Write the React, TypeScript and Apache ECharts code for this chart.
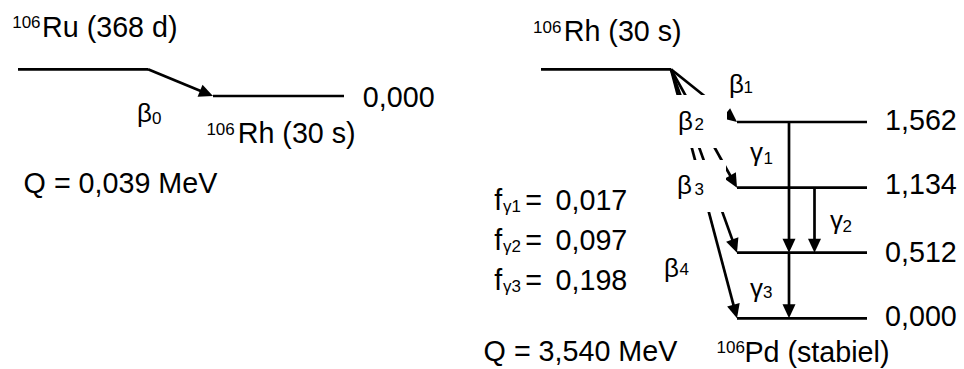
import React, { useEffect, useRef } from 'react';
import * as echarts from 'echarts';

// ---------- data ----------
const ruParent = { mass: '106', name: 'Ru (368 d)' };
const rhNuclide = { mass: '106', name: 'Rh (30 s)' };
const pdNuclide = { mass: '106', name: 'Pd (stabiel)' };
const rhLevelEnergies = ['0,000'];
const pdLevelEnergies = ['1,562', '1,134', '0,512', '0,000'];
const ruBetaLabels = ['0'];
const rhBetaLabels = ['1', '2', '3', '4']; // beta_i feeds Pd level i-1
const gammaLabels = ['1', '2', '3'];
const gammaFrom = [0, 1, 2]; // index into pdLevelEnergies
const gammaTo = [2, 2, 3];
const gammaFractions = ['0,017', '0,097', '0,198'];
const qValues = ['0,039', '3,540'];

// ---------- layout (diagram units = pixels of the axes) ----------
const FONT = '"Liberation Sans", Arial, Helvetica, sans-serif';
const BIG = 28.7;
const SMALL = 17;
const GREEK = 26;
const L = {
  lw: 2.7,
  arrowLen: 14,
  arrowHalf: 6.5,
  ru: { x1: 18, x2: 148, y: 69.3 },
  rhLeft: { x1: 213, x2: 344, y: 96 },
  rhRight: { x1: 541, x2: 671, y: 69.3 },
  pd: { x1: 737, x2: 867, y: [122, 187.7, 252.7, 318.3] },
  gammaX: [789, 814.5, 789],
  masks: [
    { x: 670, y: 95, w: 57, h: 53 },
    { x: 670, y: 160, w: 56, h: 52 },
  ],
  ruMass: [12.2, 22.5], ruName: [42, 26.7],
  rhLeftEnergy: [362.8, 97],
  rhLeftMass: [206.4, 129.2], rhLeftName: [237.7, 133],
  beta0: [137, 113.3], beta0Sub: [152, 118],
  qLeft: [23.6, 183],
  rhRightMass: [533.1, 27.5], rhRightName: [563.7, 31.2],
  beta: [[729, 83.6], [678, 121], [677, 184.5], [664, 267.5]],
  betaSub: [[743.5, 87.5], [694.5, 124.9], [694.5, 189.2], [679.5, 269.8]],
  pdEnergyX: 885, pdEnergyY: [120, 183.7, 252, 316.3],
  gamma: [[750, 152], [830, 220], [750, 287.5]],
  gammaSub: [[763.5, 158.5], [842.5, 226.7], [763, 292.5]],
  fX: 494.3, fSubX: 503, fEqX: 525.3, fValX: 555.5, fY0: 200, fSubY0: 206.7, fStep: 40,
  qRight: [483.6, 351.2],
  pdMass: [716.5, 347.8], pdName: [744.4, 351.7],
};

function buildSegments(): number[][] {
  const s: number[][] = [];
  s.push([L.ru.x1, L.ru.y, L.ru.x2, L.ru.y, 0]);
  ruBetaLabels.forEach(() => s.push([L.ru.x2, L.ru.y, L.rhLeft.x1, L.rhLeft.y, 1]));
  rhLevelEnergies.forEach(() => s.push([L.rhLeft.x1, L.rhLeft.y, L.rhLeft.x2, L.rhLeft.y, 0]));
  s.push([L.rhRight.x1, L.rhRight.y, L.rhRight.x2, L.rhRight.y, 0]);
  pdLevelEnergies.forEach((_, i) => s.push([L.pd.x1, L.pd.y[i], L.pd.x2, L.pd.y[i], 0]));
  rhBetaLabels.forEach((_, i) => s.push([L.rhRight.x2, L.rhRight.y, L.pd.x1, L.pd.y[i], 1]));
  gammaLabels.forEach((_, i) =>
    s.push([L.gammaX[i], L.pd.y[gammaFrom[i]], L.gammaX[i], L.pd.y[gammaTo[i]], 1])
  );
  return s;
}

function renderSegment(_params: any, api: any) {
  const p1 = api.coord([api.value(0), api.value(1)]);
  const p2 = api.coord([api.value(2), api.value(3)]);
  const arrow = api.value(4);
  const children: any[] = [];
  let end = p2;
  if (arrow) {
    const dx = p2[0] - p1[0];
    const dy = p2[1] - p1[1];
    const len = Math.hypot(dx, dy);
    const ux = dx / len;
    const uy = dy / len;
    const bx = p2[0] - ux * L.arrowLen;
    const by = p2[1] - uy * L.arrowLen;
    children.push({
      type: 'polygon',
      shape: {
        points: [
          [p2[0], p2[1]],
          [bx - uy * L.arrowHalf, by + ux * L.arrowHalf],
          [bx + uy * L.arrowHalf, by - ux * L.arrowHalf],
        ],
      },
      style: { fill: '#000' },
    });
    end = [bx + ux * 2, by + uy * 2];
  }
  children.unshift({
    type: 'line',
    shape: { x1: p1[0], y1: p1[1], x2: end[0], y2: end[1] },
    style: { stroke: '#000', lineWidth: L.lw, fill: null },
  });
  return { type: 'group', children };
}

function txt(text: string, pos: number[], size: number) {
  return {
    type: 'text',
    x: pos[0],
    y: pos[1],
    z: 101,
    silent: true,
    style: {
      text,
      font: `${size}px ${FONT}`,
      fill: '#000',
      align: 'left',
      verticalAlign: 'middle',
      textAlign: 'left',
      textVerticalAlign: 'middle',
    },
  };
}

function buildGraphics() {
  const g: any[] = [];
  L.masks.forEach((m) =>
    g.push({ type: 'rect', z: 100, silent: true, shape: { x: m.x, y: m.y, width: m.w, height: m.h }, style: { fill: '#fff' } })
  );
  g.push(txt(ruParent.mass, L.ruMass, SMALL));
  g.push(txt(ruParent.name, L.ruName, BIG));
  g.push(txt(rhLevelEnergies[0], L.rhLeftEnergy, BIG));
  g.push(txt(rhNuclide.mass, L.rhLeftMass, SMALL));
  g.push(txt(rhNuclide.name, L.rhLeftName, BIG));
  g.push(txt('β', L.beta0, GREEK));
  g.push(txt(ruBetaLabels[0], L.beta0Sub, SMALL));
  g.push(txt(`Q = ${qValues[0]} MeV`, L.qLeft, BIG));

  g.push(txt(rhNuclide.mass, L.rhRightMass, SMALL));
  g.push(txt(rhNuclide.name, L.rhRightName, BIG));
  rhBetaLabels.forEach((b, i) => {
    g.push(txt('β', L.beta[i], GREEK));
    g.push(txt(b, L.betaSub[i], SMALL));
  });
  pdLevelEnergies.forEach((e, i) => g.push(txt(e, [L.pdEnergyX, L.pdEnergyY[i]], BIG)));
  gammaLabels.forEach((gl, i) => {
    g.push(txt('γ', L.gamma[i], GREEK));
    g.push(txt(gl, L.gammaSub[i], SMALL));
  });
  gammaFractions.forEach((f, i) => {
    const y = L.fY0 + L.fStep * i;
    g.push(txt('f', [L.fX, y], BIG));
    g.push(txt(`γ${gammaLabels[i]}`, [L.fSubX, L.fSubY0 + L.fStep * i], SMALL));
    g.push(txt('=', [L.fEqX, y], BIG));
    g.push(txt(f, [L.fValX, y], BIG));
  });
  g.push(txt(`Q = ${qValues[1]} MeV`, L.qRight, BIG));
  g.push(txt(pdNuclide.mass, L.pdMass, SMALL));
  g.push(txt(pdNuclide.name, L.pdName, BIG));
  return g;
}

export default function App() {
  const ref = useRef<HTMLDivElement>(null);
  useEffect(() => {
    document.body.style.margin = '0';
    if (!ref.current) return;
    const chart = echarts.init(ref.current, undefined, { renderer: 'svg' });
    chart.setOption({
      animation: false,
      backgroundColor: '#fff',
      grid: { left: 0, right: 0, top: 0, bottom: 0 },
      xAxis: { type: 'value', min: 0, max: 964, show: false },
      yAxis: { type: 'value', min: 0, max: 369, inverse: true, show: false },
      series: [
        {
          type: 'custom',
          renderItem: renderSegment,
          data: buildSegments(),
          encode: { x: [0, 2], y: [1, 3] },
          silent: true,
          clip: false,
        },
      ],
      graphic: { elements: buildGraphics() },
    });
    return () => chart.dispose();
  }, []);
  return <div ref={ref} style={{ width: 964, height: 369 }} />;
}
